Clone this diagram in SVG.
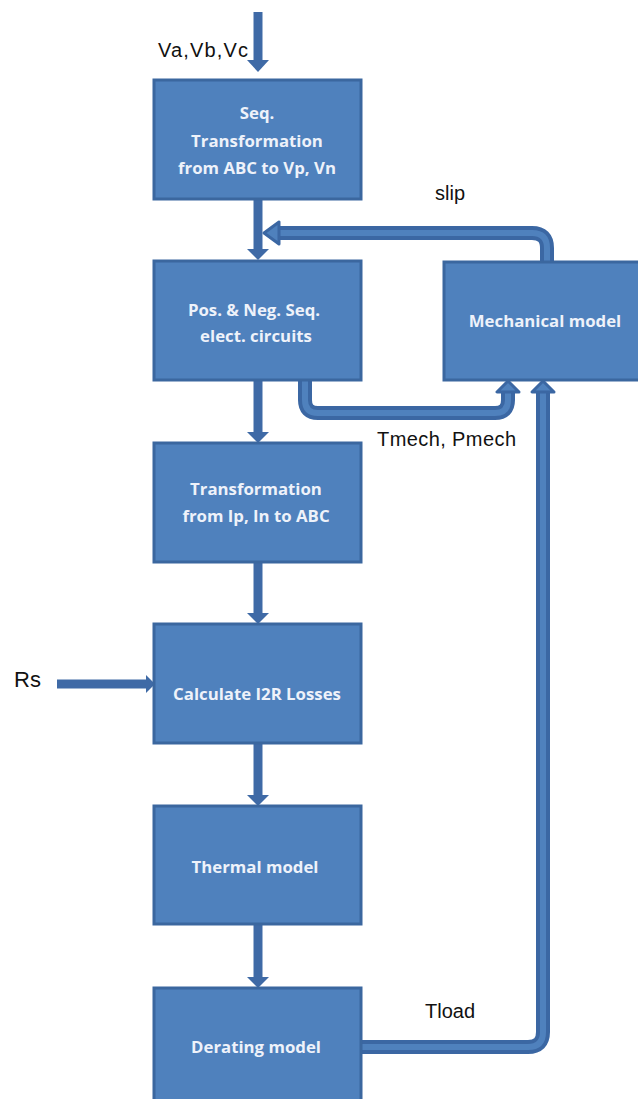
<svg xmlns="http://www.w3.org/2000/svg" width="638" height="1099" viewBox="0 0 638 1099">
<style>
.box{fill:#4f81bd;stroke:#3b679f;stroke-width:3}
.bt{font-family:"Open Sans","Noto Sans",sans-serif;font-weight:bold;font-size:16.8px;fill:#eef2fa;text-anchor:middle}
.lbl{font-family:"Liberation Sans",Arial,sans-serif;font-size:20px;fill:#111}
.shaft{stroke:#3f6aa6;stroke-width:9;fill:none}
.head{fill:#3f6aa6}
.pipeo{stroke:#3b67a3;stroke-width:14;fill:none;stroke-linejoin:round}
.pipei{stroke:#4f81bd;stroke-width:6;fill:none;stroke-linejoin:round}
.phead{fill:#4f81bd;stroke:#3b67a3;stroke-width:3;stroke-linejoin:round}
</style>
<g id="connectors">
  <line class="shaft" x1="258" y1="12" x2="258" y2="62"/>
  <polygon class="head" points="247,60 269,60 258,72"/>
  <line class="shaft" x1="258" y1="199" x2="258" y2="250"/>
  <polygon class="head" points="247,249 269,249 258,260"/>
  <line class="shaft" x1="258" y1="380" x2="258" y2="433"/>
  <polygon class="head" points="247,432 269,432 258,443"/>
  <line class="shaft" x1="258" y1="562" x2="258" y2="614"/>
  <polygon class="head" points="247,613 269,613 258,624"/>
  <line class="shaft" x1="258" y1="743" x2="258" y2="796"/>
  <polygon class="head" points="247,795 269,795 258,806"/>
  <line class="shaft" x1="258" y1="924" x2="258" y2="978"/>
  <polygon class="head" points="247,977 269,977 258,988"/>
  <line class="shaft" x1="57" y1="684" x2="148" y2="684"/>
  <polygon class="head" points="146,675 146,693 155,684"/>
  <path class="pipeo" d="M547,262 V248 Q547,233 532,233 H275"/>
  <path class="pipei" d="M547,262 V248 Q547,233 532,233 H275"/>
  <polygon class="phead" points="264,233 279,222 279,244"/>
  <path class="pipeo" d="M305,380 V400 Q305,413 318,413 H495 Q508,413 508,400 V392"/>
  <path class="pipei" d="M305,380 V400 Q305,413 318,413 H495 Q508,413 508,400 V392"/>
  <polygon class="phead" points="508,381 497,392 519,392"/>
  <path class="pipeo" d="M361,1047 H528 Q543,1047 543,1032 V392"/>
  <path class="pipei" d="M361,1047 H528 Q543,1047 543,1032 V392"/>
  <polygon class="phead" points="543,381 532,392 554,392"/>
</g>
<g id="n1">
  <rect class="box" x="154" y="80" width="207" height="119"/>
  <text class="bt" x="257" y="119">Seq.</text>
  <text class="bt" x="257" y="147">Transformation</text>
  <text class="bt" x="257" y="174">from ABC to Vp, Vn</text>
</g>
<g id="n2">
  <rect class="box" x="154" y="261" width="207" height="119"/>
  <text class="bt" x="254" y="316">Pos. &amp; Neg.  Seq.</text>
  <text class="bt" x="256" y="342">elect. circuits</text>
</g>
<g id="n3">
  <rect class="box" x="444" y="262" width="200" height="118"/>
  <text class="bt" x="545" y="327">Mechanical model</text>
</g>
<g id="n4">
  <rect class="box" x="154" y="443" width="207" height="119"/>
  <text class="bt" x="256" y="495">Transformation</text>
  <text class="bt" x="256" y="522">from Ip, In to ABC</text>
</g>
<g id="n5">
  <rect class="box" x="154" y="624" width="207" height="119"/>
  <text class="bt" x="257" y="700">Calculate I2R Losses</text>
</g>
<g id="n6">
  <rect class="box" x="154" y="806" width="207" height="118"/>
  <text class="bt" x="255" y="873">Thermal model</text>
</g>
<g id="n7">
  <rect class="box" x="154" y="988" width="207" height="120"/>
  <text class="bt" x="256" y="1053">Derating model</text>
</g>
<g id="labels">
  <text class="lbl" x="158" y="57" textLength="90">Va,Vb,Vc</text>
  <text class="lbl" x="435" y="200">slip</text>
  <text class="lbl" x="377" y="446" textLength="139">Tmech, Pmech</text>
  <text class="lbl" x="14" y="687" style="font-size:22px">Rs</text>
  <text class="lbl" x="425" y="1018">Tload</text>
</g>
</svg>
